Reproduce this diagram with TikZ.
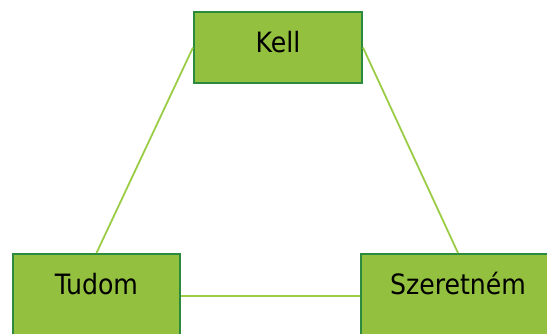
\documentclass[tikz,border=0pt]{standalone}
\usepackage{fontspec}
\setmainfont{DejaVu Sans Condensed}
\usepackage{xcolor}
\usetikzlibrary{positioning}

\definecolor{boxfill}{HTML}{93C13F}
\definecolor{boxedge}{HTML}{2B8A3E}
\definecolor{linkgreen}{HTML}{9ACD45}

\begin{document}
\begin{tikzpicture}[
    x=1pt, y=-1pt,
    word/.style={rectangle, draw=boxedge, fill=boxfill, line width=2pt, text=black, font=\fontsize{28}{32}\selectfont, inner sep=0pt, text height=20pt},
    link/.style={draw=linkgreen, line width=1.8pt}
]
\useasboundingbox (0,0) rectangle (547,333);
\clip (0,0) rectangle (547,333);

% Boxes
\node[word, minimum width=168pt, minimum height=71pt, text depth=10pt] (kell) at (278,47.5) {Kell};
\node[word, minimum width=167pt, minimum height=84pt, text depth=23.6pt] (tudom) at (96.5,296) {Tudom};
\node[word, minimum width=194pt, minimum height=84pt, text depth=23.6pt] (szeretnem) at (458,296) {Szeretném};

% Connections
\draw[link] (kell.west) -- (tudom.north);
\draw[link] (kell.east) -- (szeretnem.north);
\draw[link] (tudom.east) -- (szeretnem.west);

\end{tikzpicture}
\end{document}
